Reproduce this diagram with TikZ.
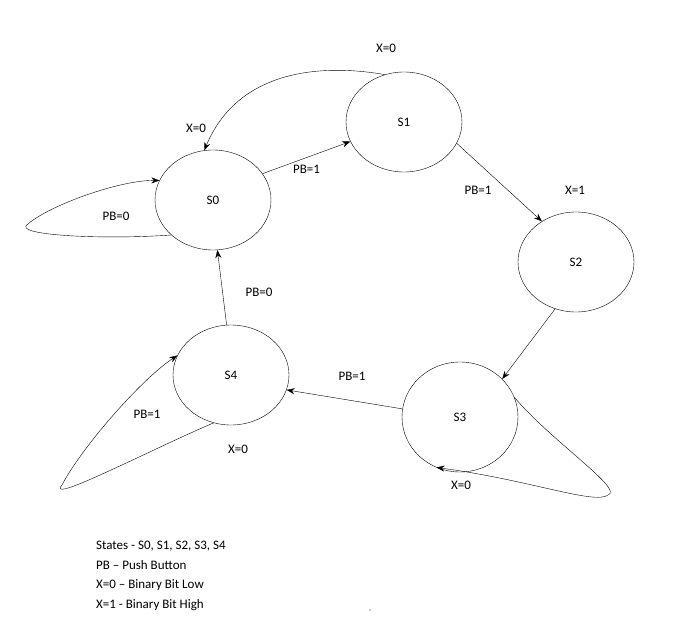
\documentclass[tikz,border=0pt]{standalone}
\usepackage{fontspec}
\setmainfont{Carlito}
\usetikzlibrary{shapes.geometric,arrows.meta}
\begin{document}
\begin{tikzpicture}[x=1pt,y=-1pt,font=\fontsize{13}{16}\selectfont,
  state/.style={draw,ellipse,minimum width=116pt,minimum height=100pt,inner sep=0pt},
  tr/.style={-{Stealth[length=8pt,width=6pt]},thin}]
  \useasboundingbox (0,0) rectangle (689,626);
  % States
  \node[state] (s0) at (213,200) {S0};
  \node[state] (s1) at (404,122) {S1};
  \node[state] (s2) at (576,262) {S2};
  \node[state,minimum height=110pt] (s3) at (460,417) {S3};
  \node[state] (s4) at (231,375) {S4};

  % Transitions
  \draw[tr] (s0.28) -- (s1.200) node[pos=0.5,below=4pt] {PB=1};
  \draw[tr] (s1.112) .. controls (330,65) and (240,65) .. (s0.100);
  \draw[tr] (s1.-22) -- (s2.130);
  \draw[tr] (s2.-114) -- (s3.42);
  \draw[tr] (s3.172) -- (s4.-15);
  \draw[tr] (s4.95) -- (s0.-85);

  % Self loops
  \coordinate (l0) at (28,224);
  \coordinate (l3) at (608,495);
  \coordinate (l4) at (62,485);
  \draw[tr] (s0.-140) .. controls (100,240) and (10,235) .. (l0) .. controls (50,205) and (120,180) .. (s0.160);
  \draw[tr] (s3.20) .. controls (550,440) and (625,490) .. (l3) .. controls (595,505) and (530,480) .. (s3.-115);
  \draw[tr] (s4.-110) .. controls (150,450) and (45,505) .. (l4) .. controls (80,450) and (140,380) .. (s4.160);

  % Labels
  \node (lx1) at (386,48) {X=0};
  \node (lx0) at (196,128) {X=0};
  \node (lpb0) at (116,216) {PB=0};
  \node (lpb1) at (478,190) {PB=1};
  \node (lx2) at (575,190) {X=1};
  \node (lpb3) at (352,376) {PB=1};
  \node (lpb4) at (259,292) {PB=0};
  \node (lpb5) at (147,414) {PB=1};
  \node (lx4) at (238,449) {X=0};
  \node (lx3) at (461,485) {X=0};

  % Legend
  \node[anchor=north west,align=left,inner sep=0pt,font=\fontsize{13}{19.5}\selectfont] (key) at (96,541)
    {States - S0, S1, S2, S3, S4\\PB -- Push Button\\X=0 -- Binary Bit Low\\X=1 - Binary Bit High};
  \fill[blue!60!black] (370,610) circle (0.6);
\end{tikzpicture}
\end{document}
